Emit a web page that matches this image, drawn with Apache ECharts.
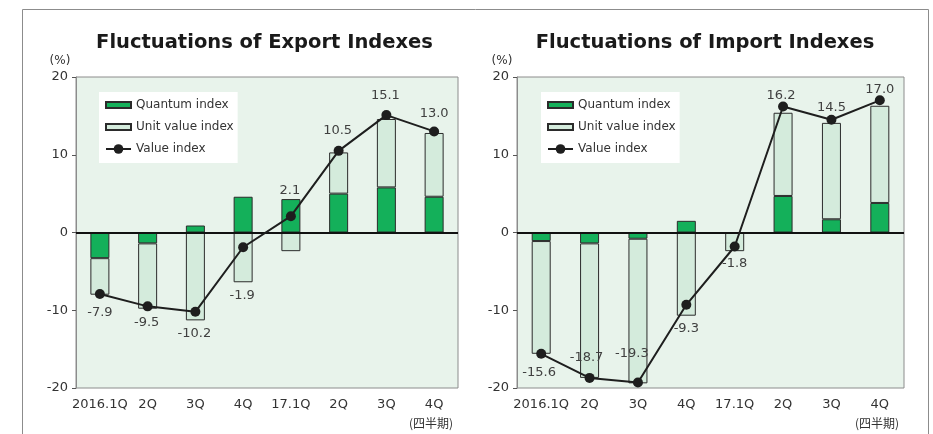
<!DOCTYPE html>
<html>
<head>
<meta charset="utf-8">
<script src="https://cdn.jsdelivr.net/npm/echarts@6/dist/echarts.min.js"></script>
<style>
  html, body { margin: 0; padding: 0; background: #fff; }
  #chart { width: 933px; height: 434px; }
</style>
</head>
<body>
<div id="chart"></div>
<script>
var quarters = ['2016.1Q', '2Q', '3Q', '4Q', '17.1Q', '2Q', '3Q', '4Q'];
var yTicks = [-20, -10, 0, 10, 20];

// 輸出
var exportQuantum = [-3.3, -1.4, 0.9, 4.6, 4.3, 5.0, 5.8, 4.6];
var exportUnit = [-4.7, -8.4, -11.3, -6.4, -2.4, 5.3, 8.8, 8.2];
var exportValue = [-7.9, -9.5, -10.2, -1.9, 2.1, 10.5, 15.1, 13.0];

// 輸入
var importQuantum = [-1.1, -1.4, -0.8, 1.5, 0, 4.7, 1.7, 3.8];
var importUnit = [-14.5, -17.3, -18.6, -10.7, -2.4, 10.7, 12.4, 12.5];
var importValue = [-15.6, -18.7, -19.3, -9.3, -1.8, 16.2, 14.5, 17.0];

// ラベルの位置 (px)
var exportLabelOffset = [[0, 19], [-1, 16], [-1, 22], [-1, 48], [-1, -26], [-1, -20], [-1, -19], [0, -18]];
var importLabelOffset = [[-2, 19], [-3, -20], [-6, -29], [0, 24], [0, 17], [-2, -11], [0, -12], [0, -11]];

var green = '#14b05a';
var light = '#d4ebdc';
var plotBg = '#e8f3eb';
var txt = '#333';
var font = 'DejaVu Sans';
var legendNames = ['Quantum index', 'Unit value index', 'Value index'];
var barIcon = 'path://M0,0h25v6h-25z';

function grid(left, width) {
    return {
        left: left, top: 77, width: width, height: 311,
        show: true, backgroundColor: plotBg, borderColor: '#8c8c8c', borderWidth: 1
    };
}
function xAxis(i) {
    return {
        type: 'category', gridIndex: i, data: quarters,
        axisLine: { show: false },
        axisTick: { show: false },
        axisLabel: { interval: 0, margin: 10, color: txt, fontSize: 13, fontFamily: font }
    };
}
function yAxis(i) {
    return {
        type: 'value', gridIndex: i, min: -20, max: 20, interval: 10,
        axisLine: { show: true, lineStyle: { color: '#8c8c8c' } },
        axisTick: { show: true, length: 4, lineStyle: { color: '#555' } },
        axisLabel: { margin: 8, color: txt, fontSize: 13, fontFamily: font,
            formatter: function (v) { return yTicks.indexOf(v) >= 0 ? String(v) : ''; } },
        splitLine: { show: false }
    };
}
function labelData(values, offsets) {
    return values.map(function (v, k) {
        return { value: v, label: { offset: offsets[k] } };
    });
}
function seriesFor(i, quantum, unit, value, offsets) {
    return [{
        name: 'Quantum index', type: 'bar', xAxisIndex: i, yAxisIndex: i,
        stack: 's' + i, barWidth: 19, data: quantum,
        itemStyle: { color: green, borderColor: '#2b2b2b', borderWidth: 1 },
        markLine: {
            silent: true, symbol: 'none', label: { show: false },
            lineStyle: { color: '#111', width: 2, type: 'solid' },
            data: [{ yAxis: 0 }]
        }
    }, {
        name: 'Unit value index', type: 'bar', xAxisIndex: i, yAxisIndex: i,
        stack: 's' + i, barWidth: 19, data: unit,
        itemStyle: { color: light, borderColor: '#2b2b2b', borderWidth: 1 }
    }, {
        name: 'Value index', type: 'line', xAxisIndex: i, yAxisIndex: i,
        data: labelData(value, offsets),
        symbol: 'circle', symbolSize: 10,
        lineStyle: { color: '#1e1e1e', width: 2 },
        itemStyle: { color: '#1e1e1e' },
        label: {
            show: true, position: 'inside', color: '#404040', fontSize: 13, fontFamily: font,
            formatter: function (p) { return p.value.toFixed(1); }
        },
        z: 5
    }];
}
function legend(left) {
    return {
        left: left, top: 92, orient: 'vertical',
        backgroundColor: '#fff', padding: [7, 4, 8, 6],
        itemWidth: 25, itemHeight: 12, itemGap: 10,
        textStyle: { color: txt, fontSize: 12, fontFamily: font },
        data: [
            { name: legendNames[0], icon: barIcon },
            { name: legendNames[1], icon: barIcon },
            { name: legendNames[2] }
        ]
    };
}
function text(x, y, s, size, weight, fam) {
    return {
        type: 'text', x: x, y: y, silent: true,
        style: { text: s, fill: weight === 'bold' ? '#1a1a1a' : txt, fontSize: size, fontWeight: weight || 'normal',
            fontFamily: fam || font, align: 'center', verticalAlign: 'middle' }
    };
}

var option = {
    animation: false,
    backgroundColor: '#fff',
    grid: [grid(76, 382), grid(517, 387)],
    xAxis: [xAxis(0), xAxis(1)],
    yAxis: [yAxis(0), yAxis(1)],
    legend: [legend(99), legend(541)],
    series: seriesFor(0, exportQuantum, exportUnit, exportValue, exportLabelOffset)
        .concat(seriesFor(1, importQuantum, importUnit, importValue, importLabelOffset)),
    graphic: [
        { type: 'rect', silent: true, shape: { x: 22.5, y: 9.5, width: 906, height: 460 },
          style: { fill: 'none', stroke: '#8c8c8c', lineWidth: 1 } },
        text(264.5, 43, 'Fluctuations of Export Indexes', 19.5, 'bold'),
        text(705, 43, 'Fluctuations of Import Indexes', 19.5, 'bold'),
        text(60, 61, '(%)', 12),
        text(502, 61, '(%)', 12),
        text(431, 423, '(四半期)', 12, 'normal', 'Noto Sans CJK JP'),
        text(877, 423, '(四半期)', 12, 'normal', 'Noto Sans CJK JP')
    ]
};

var chart = echarts.init(document.getElementById('chart'));
chart.setOption(option);
</script>
</body>
</html>
